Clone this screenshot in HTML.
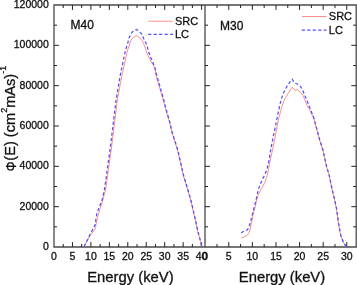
<!DOCTYPE html>
<html><head><meta charset="utf-8"><style>
html,body{margin:0;padding:0;background:#fff;}
body{width:357px;height:285px;overflow:hidden;}
svg{display:block;font-family:"Liberation Sans",sans-serif;-webkit-font-smoothing:antialiased;will-change:transform;}
text{fill:#111;stroke:#111;stroke-width:0.3px;}
</style></head><body>
<svg width="357" height="285" viewBox="0 0 357 285">
<g stroke="#4a4a4a" stroke-width="1.3" fill="none">
<path d="M54,5 H356.2 V247 H54 Z M205,5 V247"/>
</g>
<path d="M63.23,247v-3.0M63.23,5v3.0M72.45,247v-4.9M72.45,5v4.9M81.67,247v-3.0M81.67,5v3.0M90.90,247v-4.9M90.90,5v4.9M100.12,247v-3.0M100.12,5v3.0M109.35,247v-4.9M109.35,5v4.9M118.58,247v-3.0M118.58,5v3.0M127.80,247v-4.9M127.80,5v4.9M137.03,247v-3.0M137.03,5v3.0M146.25,247v-4.9M146.25,5v4.9M155.47,247v-3.0M155.47,5v3.0M164.70,247v-4.9M164.70,5v4.9M173.93,247v-3.0M173.93,5v3.0M183.15,247v-4.9M183.15,5v4.9M192.38,247v-3.0M192.38,5v3.0M201.60,247v-4.9M201.60,5v4.9M217.00,247v-3.0M217.00,5v3.0M228.79,247v-4.9M228.79,5v4.9M240.59,247v-3.0M240.59,5v3.0M252.39,247v-4.9M252.39,5v4.9M264.18,247v-3.0M264.18,5v3.0M275.98,247v-4.9M275.98,5v4.9M287.78,247v-3.0M287.78,5v3.0M299.57,247v-4.9M299.57,5v4.9M311.37,247v-3.0M311.37,5v3.0M323.17,247v-4.9M323.17,5v4.9M334.97,247v-3.0M334.97,5v3.0M346.76,247v-4.9M346.76,5v4.9M54,226.83h3.0M205,226.83h3.0M356.2,226.83h-3.0M54,206.67h4.9M205,206.67h4.9M356.2,206.67h-4.9M54,186.50h3.0M205,186.50h3.0M356.2,186.50h-3.0M54,166.33h4.9M205,166.33h4.9M356.2,166.33h-4.9M54,146.17h3.0M205,146.17h3.0M356.2,146.17h-3.0M54,126.00h4.9M205,126.00h4.9M356.2,126.00h-4.9M54,105.83h3.0M205,105.83h3.0M356.2,105.83h-3.0M54,85.67h4.9M205,85.67h4.9M356.2,85.67h-4.9M54,65.50h3.0M205,65.50h3.0M356.2,65.50h-3.0M54,45.33h4.9M205,45.33h4.9M356.2,45.33h-4.9M54,25.17h3.0M205,25.17h3.0M356.2,25.17h-3.0" stroke="#222" stroke-width="1" fill="none"/>
<polyline points="84.0,246.7 87.3,240.7 90.1,235.4 94.3,230.4 95.5,227.8 96.4,221.9 98.2,215.2 100.2,208.4 102.8,200.0 105.5,190.0 111.2,150.0 117.3,100.0 122.0,75.0 127.6,50.0 129.0,46.0 130.9,40.2 133.6,37.5 136.7,35.6 139.4,37.5 142.1,40.6 144.1,44.8 145.8,49.6 147.9,55.3 150.0,59.5 152.8,64.4 155.0,68.6 155.8,75.0 163.2,100.0 165.5,108.7 169.3,121.3 171.8,132.0 177.5,150.0 183.2,175.0 190.7,200.0 195.7,222.0 197.8,231.8 200.6,241.7 201.5,246.5" fill="none" stroke="#ff8c8c" stroke-width="1.0" stroke-linejoin="round"/>
<polyline points="84.0,246.7 88.4,237.9 91.8,231.2 95.2,224.5 96.0,218.5 96.9,213.5 99.4,206.7 101.9,200.8 104.4,190.0 110.0,150.0 116.1,100.0 120.3,75.0 125.5,50.0 127.5,44.1 129.0,37.9 132.1,32.1 136.3,29.4 138.3,30.6 141.7,34.0 144.4,40.2 146.8,44.8 148.6,51.8 150.7,57.4 152.8,62.3 155.0,67.9 156.7,75.0 163.8,100.0 165.9,108.7 169.6,121.3 172.1,132.0 177.8,150.0 183.5,175.0 190.9,200.0 195.9,222.0 198.0,231.8 200.7,241.7 201.5,246.5" fill="none" stroke="#5050ff" stroke-width="1.25" stroke-dasharray="3.2,2.3"/>
<polyline points="241.2,238.1 245.0,236.5 247.8,234.6 249.2,232.5 250.3,229.0 251.0,224.8 251.7,222.0 253.5,213.0 255.3,206.5 256.6,200.0 258.0,195.5 260.8,190.0 264.5,183.2 267.2,175.8 268.7,168.4 270.3,160.0 272.5,150.0 275.5,135.0 278.3,120.0 282.3,105.3 284.8,98.8 288.6,92.7 292.2,87.2 295.0,90.3 297.5,89.6 300.6,92.3 303.3,96.1 304.6,99.3 306.4,103.9 313.5,117.5 315.5,125.0 319.6,140.0 322.8,150.0 326.1,165.3 329.0,175.0 332.2,190.5 334.6,200.0 336.6,210.0 338.5,224.0 340.6,235.3 343.4,242.3 346.2,246.8" fill="none" stroke="#ff8c8c" stroke-width="1.0" stroke-linejoin="round"/>
<polyline points="241.2,232.9 243.3,231.5 246.8,230.1 248.5,228.3 249.6,225.2 250.3,222.7 252.8,212.6 254.4,206.5 257.1,195.5 258.2,190.0 259.8,185.3 262.4,179.5 265.1,174.2 267.2,168.4 268.7,162.1 271.1,147.4 276.7,120.0 279.9,104.6 282.6,95.0 284.4,91.1 287.1,86.1 290.2,81.5 292.1,79.2 294.8,83.0 297.2,84.0 299.4,85.0 302.5,89.6 305.2,96.5 306.4,99.3 308.3,103.9 313.7,117.5 315.7,125.0 319.8,140.0 323.0,150.0 326.3,165.3 329.2,175.0 332.4,190.5 334.8,200.0 336.8,210.0 338.7,224.0 340.8,235.3 343.5,242.3 346.2,246.8" fill="none" stroke="#5050ff" stroke-width="1.25" stroke-dasharray="3.2,2.3"/>
<line x1="148.4" y1="21.2" x2="172.8" y2="21.2" stroke="#ff8c8c" stroke-width="1.0"/>
<line x1="148.1" y1="34.3" x2="173" y2="34.3" stroke="#5050ff" stroke-width="1.25" stroke-dasharray="3.2,2.3"/>
<line x1="301.9" y1="16.5" x2="326.5" y2="16.5" stroke="#ff8c8c" stroke-width="1.0"/>
<line x1="301.7" y1="30" x2="326.5" y2="30" stroke="#5050ff" stroke-width="1.25" stroke-dasharray="3.2,2.3"/>
<text x="48.8" y="250.15" text-anchor="end" font-size="10.5">0</text>
<text x="48.8" y="209.82" text-anchor="end" font-size="10.5">20000</text>
<text x="48.8" y="169.48" text-anchor="end" font-size="10.5">40000</text>
<text x="48.8" y="129.15" text-anchor="end" font-size="10.5">60000</text>
<text x="48.8" y="88.82" text-anchor="end" font-size="10.5">80000</text>
<text x="48.8" y="48.48" text-anchor="end" font-size="10.5">100000</text>
<text x="48.8" y="8.15" text-anchor="end" font-size="10.5">120000</text>
<text x="54.00" y="260.1" text-anchor="middle" font-size="10.5">0</text>
<text x="72.45" y="260.1" text-anchor="middle" font-size="10.5">5</text>
<text x="90.90" y="260.1" text-anchor="middle" font-size="10.5">10</text>
<text x="109.35" y="260.1" text-anchor="middle" font-size="10.5">15</text>
<text x="127.80" y="260.1" text-anchor="middle" font-size="10.5">20</text>
<text x="146.25" y="260.1" text-anchor="middle" font-size="10.5">25</text>
<text x="164.70" y="260.1" text-anchor="middle" font-size="10.5">30</text>
<text x="183.15" y="260.1" text-anchor="middle" font-size="10.5">35</text>
<text x="201.60" y="260.1" text-anchor="middle" font-size="10.5">40</text>
<text x="205.20" y="260.1" text-anchor="middle" font-size="10.5">0</text>
<text x="228.79" y="260.1" text-anchor="middle" font-size="10.5">5</text>
<text x="252.39" y="260.1" text-anchor="middle" font-size="10.5">10</text>
<text x="275.98" y="260.1" text-anchor="middle" font-size="10.5">15</text>
<text x="299.57" y="260.1" text-anchor="middle" font-size="10.5">20</text>
<text x="323.17" y="260.1" text-anchor="middle" font-size="10.5">25</text>
<text x="346.76" y="260.1" text-anchor="middle" font-size="10.5">30</text>
<text x="130.4" y="281.5" text-anchor="middle" font-size="14.8">Energy (keV)</text>
<text x="282" y="281.5" text-anchor="middle" font-size="14.8">Energy (keV)</text>
<text x="70.5" y="29.1" font-size="12">M40</text>
<text x="220" y="29.9" font-size="12">M30</text>
<text x="175" y="24.8" font-size="11">SRC</text>
<text x="175" y="37.8" font-size="11">LC</text>
<text x="328.8" y="20" font-size="11">SRC</text>
<text x="328.8" y="33.5" font-size="11">LC</text>
<text transform="translate(15.9,171.3) rotate(-90) scale(0.84,1)" font-size="14.5">Φ</text>
<text transform="translate(14.9,160.7) rotate(-90)" font-size="14.6">(E) (cm<tspan font-size="9" dy="-8.3">2</tspan><tspan dy="8.3">mAs)</tspan><tspan font-size="9" dy="-8.8">-1</tspan></text>
</svg>
</body></html>
